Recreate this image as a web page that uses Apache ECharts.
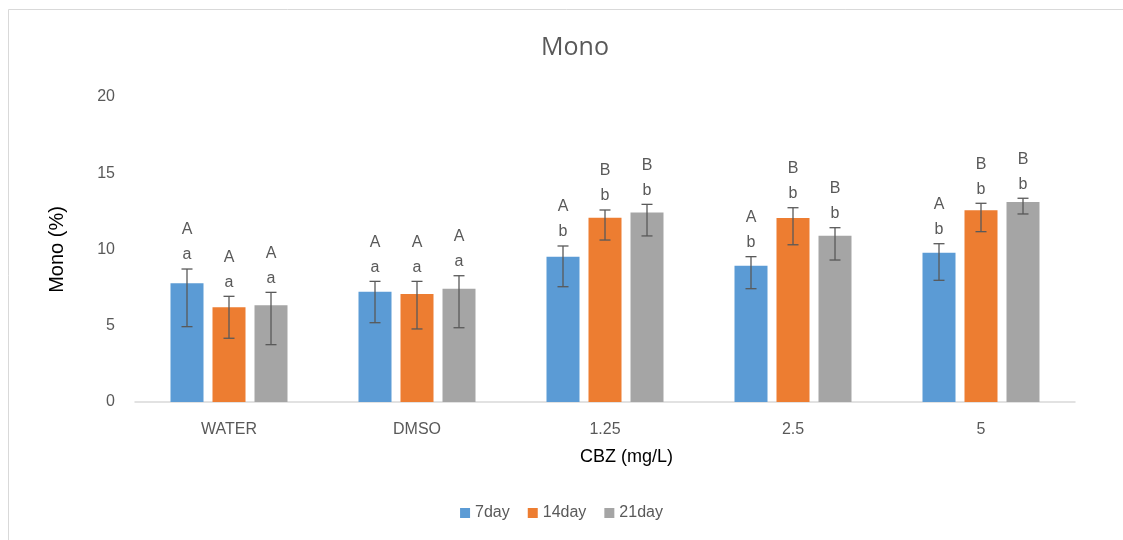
<!DOCTYPE html>
<html>
<head>
<meta charset="utf-8">
<script src="https://cdn.jsdelivr.net/npm/echarts@6/dist/echarts.min.js"></script>
<style>
html,body{margin:0;padding:0;background:#fff;}
#c{width:1123px;height:540px;}
</style>
</head>
<body>
<div id="c"></div>
<script>
const categories = ['WATER', 'DMSO', '1.25', '2.5', '5'];
const seriesNames = ['7day', '14day', '21day'];
const day7 = [7.78, 7.23, 9.53, 8.94, 9.79];
const day7Hi = [8.72, 7.91, 10.23, 9.53, 10.38];
const day7Lo = [4.94, 5.20, 7.56, 7.43, 7.98];
const day14 = [6.21, 7.08, 12.09, 12.07, 12.57];
const day14Hi = [6.93, 7.91, 12.59, 12.74, 13.03];
const day14Lo = [4.18, 4.79, 10.62, 10.31, 11.17];
const day21 = [6.34, 7.43, 12.43, 10.90, 13.11];
const day21Hi = [7.19, 8.28, 12.96, 11.43, 13.36];
const day21Lo = [3.76, 4.87, 10.89, 9.31, 12.33];
const day7Upper = ['A', 'A', 'A', 'A', 'A'];
const day7Lower = ['a', 'a', 'b', 'b', 'b'];
const day14Upper = ['A', 'A', 'B', 'B', 'B'];
const day14Lower = ['a', 'a', 'b', 'b', 'b'];
const day21Upper = ['A', 'A', 'B', 'B', 'B'];
const day21Lower = ['a', 'a', 'b', 'b', 'b'];
const yTicks = [0, 5, 10, 15, 20];

const colors = ['#5B9BD5', '#ED7D31', '#A5A5A5'];
const vals = [day7, day14, day21];
const his = [day7Hi, day14Hi, day21Hi];
const los = [day7Lo, day14Lo, day21Lo];
const ups = [day7Upper, day14Upper, day21Upper];
const lows = [day7Lower, day14Lower, day21Lower];

const BAR_W = 33, BAR_GAP = 9;
const font = 'Liberation Sans, Arial, sans-serif';

const chart = echarts.init(document.getElementById('c'));

const series = [];
vals.forEach((v, i) => {
  series.push({
    name: seriesNames[i],
    type: 'bar',
    data: v,
    barWidth: BAR_W,
    barGap: (BAR_GAP / BAR_W * 100) + '%',
    itemStyle: { color: colors[i] },
    z: 2
  });
});
vals.forEach((v, i) => {
  series.push({
    type: 'custom',
    name: 'err' + i,
    data: categories.map((c, k) => [k, los[i][k], his[i][k]]),
    z: 5,
    silent: true,
    renderItem: function (params, api) {
      const k = api.value(0);
      const off = (i - 1) * (BAR_W + BAR_GAP);
      const top = api.coord([k, api.value(2)]);
      const bot = api.coord([k, api.value(1)]);
      const x = top[0] + off;
      const cap = 5.5;
      const st = { stroke: '#595959', lineWidth: 1.3 };
      return {
        type: 'group',
        children: [
          { type: 'line', shape: { x1: x, y1: top[1], x2: x, y2: bot[1] }, style: st },
          { type: 'line', shape: { x1: x - cap, y1: top[1], x2: x + cap, y2: top[1] }, style: st },
          { type: 'line', shape: { x1: x - cap, y1: bot[1], x2: x + cap, y2: bot[1] }, style: st },
          { type: 'text', x: x, y: top[1] - 14, style: { text: lows[i][k], fill: '#595959', font: '16px ' + font, align: 'center', verticalAlign: 'middle' } },
          { type: 'text', x: x, y: top[1] - 39, style: { text: ups[i][k], fill: '#595959', font: '16px ' + font, align: 'center', verticalAlign: 'middle' } }
        ]
      };
    }
  });
});

chart.setOption({
  animation: false,
  backgroundColor: '#fff',
  title: {
    text: 'Mono',
    left: 570, top: 30, textAlign: 'center',
    textStyle: { color: '#595959', fontSize: 25, fontWeight: 'normal', fontFamily: 'Open Sans, sans-serif' }
  },
  graphic: [{
    type: 'rect', shape: { x: 8.5, y: 9.5, width: 1130, height: 540 },
    style: { fill: 'none', stroke: '#d9d9d9', lineWidth: 1 }, silent: true
  }],
  legend: {
    data: seriesNames,
    bottom: 14, left: 'center',
    itemWidth: 10, itemHeight: 10, itemGap: 18,
    icon: 'rect',
    textStyle: { color: '#595959', fontSize: 16, fontFamily: font }
  },
  grid: { left: 135, right: 48, top: 97, bottom: 138, containLabel: false },
  xAxis: {
    type: 'category',
    data: categories,
    name: 'CBZ (mg/L)',
    nameLocation: 'middle',
    nameGap: 46,
    nameTextStyle: { color: '#000', fontSize: 18, fontFamily: font, padding: [0, 0, 0, 43] },
    axisLine: { lineStyle: { color: '#d9d9d9', width: 1.5 } },
    axisTick: { show: false },
    axisLabel: { color: '#595959', fontSize: 16, margin: 20, fontFamily: font }
  },
  yAxis: {
    type: 'value',
    min: yTicks[0], max: yTicks[yTicks.length - 1], interval: 5,
    name: 'Mono (%)',
    nameLocation: 'middle',
    nameGap: 68,
    nameRotate: 90,
    nameTextStyle: { color: '#000', fontSize: 20, fontFamily: font, padding: [0, 0, 0, 0] },
    axisLine: { show: false },
    axisTick: { show: false },
    splitLine: { show: false },
    axisLabel: { color: '#595959', fontSize: 16, margin: 20, fontFamily: font }
  },
  series: series
});
</script>
</body>
</html>
